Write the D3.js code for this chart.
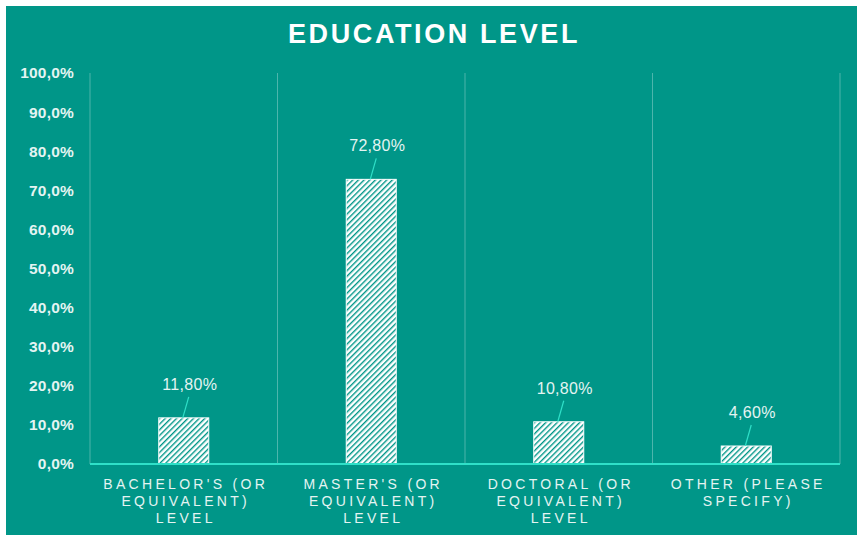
<!DOCTYPE html>
<html>
<head>
<meta charset="utf-8">
<script src="https://cdn.jsdelivr.net/npm/d3@7"></script>
<style>
  body { margin: 0; background: #fff; }
  text { font-family: "Liberation Sans", Arial, sans-serif; }
</style>
</head>
<body>
<div id="chart"></div>
<script>
// chart data
var categories = [
    ["BACHELOR'S (OR", "EQUIVALENT)", "LEVEL"],
    ["MASTER'S (OR", "EQUIVALENT)", "LEVEL"],
    ["DOCTORAL (OR", "EQUIVALENT)", "LEVEL"],
    ["OTHER (PLEASE", "SPECIFY)"]
];
var values = [11.8, 72.8, 10.8, 4.6];
var valueLabels = ["11,80%", "72,80%", "10,80%", "4,60%"];
var yTicks = [0, 10, 20, 30, 40, 50, 60, 70, 80, 90, 100];

var width = 857, height = 535;
var margin = { top: 73, right: 17, bottom: 71, left: 90 };
var bg = "#009688";

var svg = d3.select("#chart")
    .append("svg")
    .attr("width", width)
    .attr("height", height);

// hatch pattern for bars
var defs = svg.append("defs");
var pat = defs.append("pattern")
    .attr("id", "hatch")
    .attr("patternUnits", "userSpaceOnUse")
    .attr("width", 4)
    .attr("height", 4)
    .attr("patternTransform", "rotate(45)");
pat.append("rect").attr("width", 4).attr("height", 4).attr("fill", "#ffffff");
pat.append("rect").attr("x", 0).attr("width", 1.4).attr("height", 4).attr("fill", bg);

svg.append("rect")
    .attr("x", 6).attr("y", 6)
    .attr("width", width - 6).attr("height", height - 6)
    .attr("fill", bg);

svg.append("text")
    .text("EDUCATION LEVEL")
    .attr("x", 434)
    .attr("y", 43)
    .attr("text-anchor", "middle")
    .attr("fill", "#ffffff")
    .attr("font-size", 27)
    .attr("font-weight", "bold")
    .attr("letter-spacing", 2.6);

var x = d3.scaleBand()
    .domain(d3.range(categories.length))
    .range([margin.left, width - margin.right])
    .paddingInner(0).paddingOuter(0);

var y = d3.scaleLinear()
    .domain([0, 100])
    .range([height - margin.bottom, margin.top]);

// vertical gridlines between categories
var gridX = d3.range(categories.length + 1).map(function(i) {
    return i < categories.length ? x(i) : x.range()[1];
});
svg.selectAll(".grid")
    .data(gridX)
    .join("line")
    .attr("class", "grid")
    .attr("x1", function(d) { return d; })
    .attr("x2", function(d) { return d; })
    .attr("y1", y(100))
    .attr("y2", y(0))
    .attr("stroke", "#ffffff")
    .attr("stroke-opacity", 0.3)
    .attr("stroke-width", 1);

// y axis labels
var yAxis = svg.append("g")
    .attr("transform", "translate(" + margin.left + ",0)")
    .call(d3.axisLeft(y).tickValues(yTicks).tickSize(0).tickPadding(16)
        .tickFormat(function(d) { return d3.format(".1f")(d).replace(".", ",") + "%"; }));
yAxis.select(".domain").remove();
yAxis.selectAll("text")
    .attr("fill", "#e4f4f2")
    .attr("font-size", 15.5)
    .attr("font-weight", "bold")
    .attr("letter-spacing", 0.2)
    .attr("font-family", "'Liberation Sans', Arial, sans-serif");

var barW = 50;
svg.selectAll(".bar")
    .data(values)
    .join("rect")
    .attr("class", "bar")
    .attr("x", function(d, i) { return x(i) + x.bandwidth() / 2 - barW / 2; })
    .attr("y", function(d) { return y(d); })
    .attr("width", barW)
    .attr("height", function(d) { return y(0) - y(d); })
    .attr("fill", "url(#hatch)")
    .attr("stroke", "#ffffff")
    .attr("stroke-width", 1);

// baseline
svg.append("line")
    .attr("x1", margin.left)
    .attr("x2", width - margin.right)
    .attr("y1", y(0))
    .attr("y2", y(0))
    .attr("stroke", "#2fe0c8")
    .attr("stroke-width", 2);

// leader lines and value labels
svg.selectAll(".leader")
    .data(values)
    .join("line")
    .attr("class", "leader")
    .attr("x1", function(d, i) { return x(i) + x.bandwidth() / 2 - 1; })
    .attr("y1", function(d) { return y(d); })
    .attr("x2", function(d, i) { return x(i) + x.bandwidth() / 2 + 5; })
    .attr("y2", function(d) { return y(d) - 21; })
    .attr("stroke", "#2fe0c8")
    .attr("stroke-width", 1.2);

svg.selectAll(".vlabel")
    .data(values)
    .join("text")
    .attr("class", "vlabel")
    .text(function(d, i) { return valueLabels[i]; })
    .attr("x", function(d, i) { return x(i) + x.bandwidth() / 2 + 6; })
    .attr("y", function(d) { return y(d) - 28; })
    .attr("text-anchor", "middle")
    .attr("fill", "#e4f4f2")
    .attr("font-size", 16)
    .attr("letter-spacing", 0.3);

// category labels
var cat = svg.selectAll(".cat")
    .data(categories)
    .join("text")
    .attr("class", "cat")
    .attr("text-anchor", "middle")
    .attr("fill", "#e4f4f2")
    .attr("font-size", 14)
    .attr("letter-spacing", 3.3);
cat.selectAll("tspan")
    .data(function(d, i) { return d.map(function(s) { return { s: s, i: i }; }); })
    .join("tspan")
    .attr("x", function(d) { return x(d.i) + x.bandwidth() / 2 + 2; })
    .attr("y", function(d, j) { return y(0) + 25 + j * 17; })
    .text(function(d) { return d.s; });
</script>
</body>
</html>
